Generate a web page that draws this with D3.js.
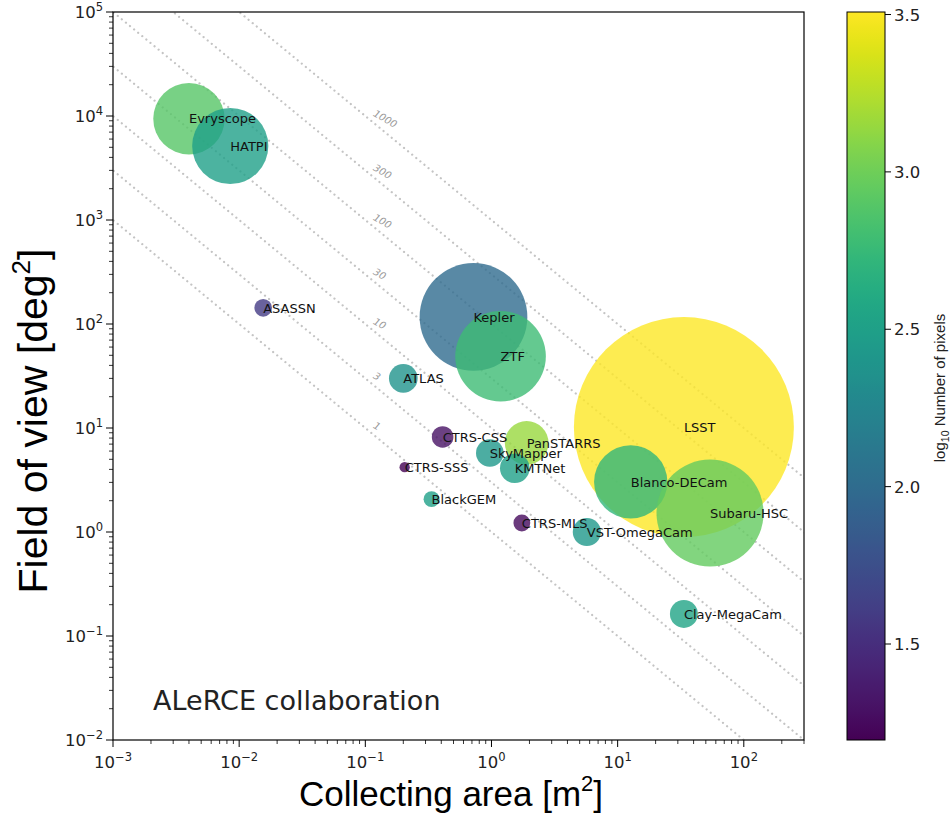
<!DOCTYPE html>
<html><head><meta charset="utf-8">
<script src="https://cdn.jsdelivr.net/npm/d3@7"></script>
<style>
html,body{margin:0;padding:0;background:#fff;}
svg{display:block;}
</style></head>
<body>
<svg id="chart" width="950" height="814"></svg>
<script>
// ---------- data ----------
const names = ["Evryscope","HATPI","ASASSN","Kepler","ZTF","ATLAS","LSST","CTRS-CSS","PanSTARRS","SkyMapper","CTRS-SSS","KMTNet","Blanco-DECam","Subaru-HSC","BlackGEM","CTRS-MLS","VST-OmegaCam","Clay-MegaCam"];
const collectingArea = [0.0040,0.0085,0.0155,0.72,1.18,0.20,33.5,0.41,1.9,0.97,0.205,1.53,12.7,54,0.335,1.74,5.7,33.5];
const fieldOfView   = [9400,5150,143,117,49,30,10.2,8.2,7.2,5.75,4.2,4.1,3.03,1.52,2.07,1.22,1.0,0.163];
const etendue       = [36,41,2.2,82,58,5.8,342,3.3,13.5,5.4,0.75,6.2,38,81,1.8,2.0,5.6,5.5];
const logPixels     = [2.9,2.5,1.6,2.0,2.78,2.38,3.5,1.3,3.15,2.43,1.2,2.5,2.72,2.95,2.5,1.25,2.43,2.55];
const etendueLines  = [1,3,10,30,100,300,1000];
const xTickExp = [-3,-2,-1,0,1,2];
const yTickExp = [-2,-1,0,1,2,3,4,5];
const cbarTicks = [1.5,2.0,2.5,3.0,3.5];
const cbarTickLabels = ["1.5","2.0","2.5","3.0","3.5"];
const xDomain = [1e-3, 300];
const yDomain = [1e-2, 1e5];
const cDomain = [1.195, 3.508];
const annotation = "ALeRCE collaboration";

// ---------- layout ----------
const L = 113, R = 804, T = 12, B = 740;
const svg = d3.select("#chart");
svg.append("rect").attr("width",950).attr("height",814).attr("fill","#fff");

const x = d3.scaleLog().domain(xDomain).range([L, R]);
const y = d3.scaleLog().domain(yDomain).range([B, T]);
const r = d3.scaleSqrt().domain([0, 342]).range([0, 110]);
const color = d3.scaleSequential(d3.interpolateViridis).domain(cDomain);

svg.append("defs").append("clipPath").attr("id","plotclip")
  .append("rect").attr("x",L).attr("y",T).attr("width",R-L).attr("height",B-T);

const plot = svg.append("g").attr("clip-path","url(#plotclip)");

// dotted iso-etendue lines
const lineGen = d3.line().x(d=>x(d[0])).y(d=>y(d[1]));
etendueLines.forEach(v=>{
  const pts = [[1e-4, v/1e-4],[1e4, v/1e4]];
  plot.append("path").attr("d", lineGen(pts))
    .attr("fill","none").attr("stroke","#c4c4c4").attr("stroke-width",2.2)
    .attr("stroke-linecap","round").attr("stroke-dasharray","0.1,5.2");
});

// bubbles
const data = names.map((n,i)=>({name:n, a:collectingArea[i], f:fieldOfView[i], e:etendue[i], p:logPixels[i]}));
plot.selectAll("circle.b").data(data).enter().append("circle")
  .attr("class","b")
  .attr("cx",d=>x(d.a)).attr("cy",d=>y(d.f)).attr("r",d=>r(d.e))
  .attr("fill",d=>color(d.p)).attr("fill-opacity",0.8);

// line labels
etendueLines.forEach(v=>{
  const xx = x(0.114), yy = y(v/0.114) - 6.5;
  svg.append("text").attr("transform",`translate(${xx},${yy}) rotate(30)`)
    .attr("font-family","DejaVu Sans").attr("font-size",10).attr("fill","#9a9a9a")
    .attr("font-style","italic")
    .text(v);
});

// bubble labels
svg.selectAll("text.lab").data(data).enter().append("text")
  .attr("class","lab")
  .attr("x",d=>x(d.a)).attr("y",d=>y(d.f))
  .attr("dy","0.36em")
  .attr("font-family","DejaVu Sans").attr("font-size",13).attr("fill","#111")
  .text(d=>d.name);

// frame
svg.append("rect").attr("x",L).attr("y",T).attr("width",R-L).attr("height",B-T)
  .attr("fill","none").attr("stroke","#000").attr("stroke-width",1.2);

// ticks
function sup(sel, e, fs){
  sel.append("tspan").text("10").attr("font-size",fs);
  sel.append("tspan").text(e<0 ? "\u2212"+(-e) : String(e)).attr("font-size",fs*0.7).attr("dy",-fs*0.45);
}
const tickFS = 16.5;
const tickG = svg.append("g");
xTickExp.forEach(e=>{
  const xx = x(Math.pow(10,e));
  tickG.append("line").attr("x1",xx).attr("x2",xx).attr("y1",B).attr("y2",B+7).attr("stroke","#000").attr("stroke-width",1);
  const t = tickG.append("text").attr("x",xx).attr("y",B+28).attr("text-anchor","middle")
    .attr("font-family","DejaVu Sans").attr("fill","#222");
  sup(t,e,tickFS);
});
yTickExp.forEach(e=>{
  const yy = y(Math.pow(10,e));
  tickG.append("line").attr("x1",L-7).attr("x2",L).attr("y1",yy).attr("y2",yy).attr("stroke","#000").attr("stroke-width",1);
  const t = tickG.append("text").attr("x",L-10).attr("y",yy+6).attr("text-anchor","end")
    .attr("font-family","DejaVu Sans").attr("fill","#222");
  sup(t,e,tickFS);
});
// minor ticks
x.ticks().forEach(v=>{
  const lg = Math.log10(v);
  if (Math.abs(lg-Math.round(lg))<1e-9) return;
  const xx = x(v);
  tickG.append("line").attr("x1",xx).attr("x2",xx).attr("y1",B).attr("y2",B+4).attr("stroke","#000").attr("stroke-width",0.8);
});
y.ticks().forEach(v=>{
  const lg = Math.log10(v);
  if (Math.abs(lg-Math.round(lg))<1e-9) return;
  const yy = y(v);
  tickG.append("line").attr("x1",L-4).attr("x2",L).attr("y1",yy).attr("y2",yy).attr("stroke","#000").attr("stroke-width",0.8);
});

// axis titles
const xt = svg.append("text").attr("x",451).attr("y",806).attr("text-anchor","middle")
  .attr("font-family","Liberation Sans, Arial").attr("font-size",35).attr("fill","#000");
xt.append("tspan").text("Collecting area [m");
xt.append("tspan").text("2").attr("font-size",22).attr("dy",-15);
xt.append("tspan").text("]").attr("dy",15);

const yt = svg.append("text").attr("transform","translate(47,421) rotate(-90)").attr("text-anchor","middle")
  .attr("font-family","Liberation Sans, Arial").attr("font-size",41).attr("fill","#000");
yt.append("tspan").text("Field of view [deg");
yt.append("tspan").text("2").attr("font-size",26).attr("dy",-17);
yt.append("tspan").text("]").attr("dy",17);

// annotation
svg.append("text").attr("x",153).attr("y",710).attr("font-family","DejaVu Sans")
  .attr("font-size",27).attr("fill","#222").text(annotation);

// colorbar
const cb = d3.scaleLinear().domain(cDomain).range([B, T]);
const CX = 847, CW = 38;
const grad = svg.select("defs").append("linearGradient").attr("id","vgrad")
  .attr("x1",0).attr("y1",1).attr("x2",0).attr("y2",0);
d3.range(0,1.0001,0.02).forEach(t=>{
  grad.append("stop").attr("offset",t).attr("stop-color",d3.interpolateViridis(t));
});
svg.append("rect").attr("x",CX).attr("y",cb(cDomain[1])).attr("width",CW).attr("height",cb(cDomain[0])-cb(cDomain[1]))
  .attr("fill","url(#vgrad)").attr("stroke","#000").attr("stroke-width",1);
cbarTicks.forEach((v,i)=>{
  const yy = cb(v);
  svg.append("line").attr("x1",CX+CW).attr("x2",CX+CW+6).attr("y1",yy).attr("y2",yy).attr("stroke","#000");
  svg.append("text").attr("x",CX+CW+9).attr("y",yy+6).attr("font-family","DejaVu Sans")
    .attr("font-size",16.5).attr("fill","#222").text(cbarTickLabels[i]);
});
const cl = svg.append("text").attr("transform","translate(945,388) rotate(-90)").attr("text-anchor","middle")
  .attr("font-family","Liberation Sans, Arial").attr("font-size",15).attr("fill","#222");
cl.append("tspan").text("log");
cl.append("tspan").text("10").attr("font-size",10.5).attr("dy",4);
cl.append("tspan").text(" Number of pixels").attr("dy",-4);
</script>
</body></html>
